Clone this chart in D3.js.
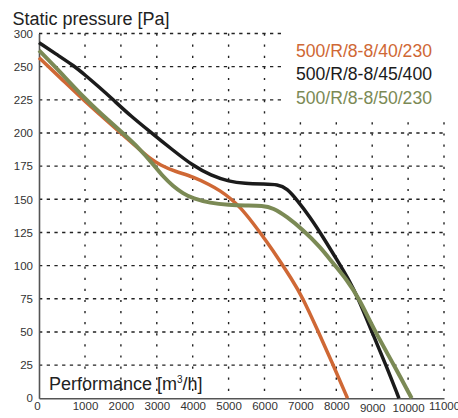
<!DOCTYPE html>
<html>
<head>
<meta charset="utf-8">
<script src="https://cdn.jsdelivr.net/npm/d3@7"></script>
<style>
  html, body { margin: 0; padding: 0; background: #fff; }
  svg { display: block; font-family: "Liberation Sans", Arial, Helvetica, sans-serif; }
</style>
</head>
<body>
<svg id="chart" width="458" height="418"></svg>
<script>
// ---- data ----
const seriesNames = ["500/R/8-8/40/230", "500/R/8-8/45/400", "500/R/8-8/50/230"];
const seriesColors = ["#cf6835", "#1b1b1b", "#7b8a55"];

const flow40 = [0, 467, 950, 1446, 2031, 2532, 2811, 3089, 3507, 4009, 4482, 4760, 5039, 5318, 5680, 6070, 6432, 6738, 7045, 7490, 7908, 8312];
const pres40 = [256.8, 241.5, 225.4, 213.2, 199.0, 187.2, 180.8, 175.9, 171.0, 167.1, 160.8, 156.6, 151.0, 144.2, 132.1, 117.8, 103.5, 90.6, 77.0, 50.7, 25.5, 0];

const flow45 = [0, 370, 767, 1000, 1390, 1772, 2281, 2866, 3423, 4017, 4510, 5011, 5457, 5958, 6376, 6627, 6905, 7267, 7630, 8019, 8354, 8604, 8994, 9384, 9746];
const pres45 = [268.1, 259.5, 250.5, 243.7, 234.7, 225.4, 212.6, 199.8, 187.6, 175.1, 168.0, 163.4, 161.9, 161.5, 161.3, 158.2, 149.5, 136.7, 121.6, 104.3, 89.2, 75.6, 50.0, 25.1, 0];

const flow50 = [0, 326, 1028, 1446, 2031, 2532, 2894, 3173, 3451, 3730, 4008, 4482, 5011, 5457, 5958, 6237, 6627, 7072, 7546, 7908, 8298, 8632, 9078, 9607, 10100];
const pres50 = [262.3, 250.9, 224.9, 214.6, 200.4, 187.9, 176.6, 167.2, 160.0, 154.4, 150.6, 147.2, 145.7, 145.3, 145.3, 143.5, 136.9, 126.9, 114.3, 101.8, 89.2, 75.4, 50.2, 25.1, 0];

const xTicks = [0, 1000, 2000, 3000, 4000, 5000, 6000, 7000, 8000, 9000, 10000, 11000];
const yTicks = [0, 25, 50, 75, 100, 125, 150, 175, 200, 225, 250, 275];
const yTickLabels = ["0", "25", "50", "75", "100", "125", "150", "175", "200", "225", "250", "300"];

const titleY = "Static pressure [Pa]";
const titleX = "Performance [m";
const titleXSup = "3";
const titleXEnd = "/h]";

// ---- chart ----
const svg = d3.select("#chart");
const x = d3.scaleLinear().domain([0, 1000, 11000]).range([39, 85, 444]);
const y = d3.scaleLinear().domain([0, 275]).range([398.3, 33.5]);

// grid
const grid = svg.append("g");
grid.selectAll("line.h").data(yTicks.slice(1)).join("line")
  .attr("x1", x(0)).attr("x2", x(11000))
  .attr("y1", d => y(d)).attr("y2", d => y(d))
  .attr("stroke", "#222").attr("stroke-width", 1.4)
  .attr("stroke-dasharray", "3.3,4.4");
grid.selectAll("line.v").data(xTicks.slice(1)).join("line")
  .attr("x1", d => x(d)).attr("x2", d => x(d))
  .attr("y1", y(275)).attr("y2", y(0))
  .attr("stroke", "#222").attr("stroke-width", 1.4)
  .attr("stroke-dasharray", "2.2,8.9");

// legend backdrop
svg.append("rect").attr("x", 285).attr("y", 0).attr("width", 173).attr("height", 116).attr("fill", "#fff");

// axes
const yAxis = svg.append("g").attr("transform", `translate(${x(0)},0)`)
  .call(d3.axisLeft(y).tickValues(yTicks).tickSize(0).tickPadding(6)
    .tickFormat((d, i) => yTickLabels[i]));
const xAxis = svg.append("g").attr("transform", `translate(0,${y(0)})`)
  .call(d3.axisBottom(x).tickValues(xTicks).tickSize(0).tickPadding(4)
    .tickFormat(d3.format("d")));
[yAxis, xAxis].forEach(g => {
  g.select(".domain").attr("stroke", "#555").attr("stroke-width", 1.6);
  g.selectAll("text").attr("fill", "#333").style("font-size", "11.5px")
    .style("font-family", "\"Liberation Sans\", Arial, sans-serif");
});
xAxis.selectAll(".tick").filter(d => d === 0).select("text").attr("dx", "-2");
xAxis.selectAll(".tick").filter(d => d === 9000 || d === 10000).select("text").attr("dy", "0.88em");

// curves
const line = d3.line().x(d => x(d[0])).y(d => y(d[1])).curve(d3.curveBasis);
const series = [
  d3.zip(flow40, pres40),
  d3.zip(flow45, pres45),
  d3.zip(flow50, pres50)
];
const widths = [3.5, 3.5, 4];
series.forEach((s, i) => {
  svg.append("path").datum(s).attr("d", line)
    .attr("fill", "none").attr("stroke", seriesColors[i])
    .attr("stroke-width", widths[i]).attr("stroke-linejoin", "round").attr("stroke-linecap", "butt");
});

// legend
svg.append("g").selectAll("text").data(seriesNames).join("text")
  .attr("x", 296).attr("y", (d, i) => 56.7 + i * 23.6)
  .attr("fill", (d, i) => seriesColors[i])
  .style("font-size", "17.6px")
  .text(d => d);

// titles
svg.append("text").attr("x", 12.5).attr("y", 25).attr("fill", "#222")
  .style("font-size", "18px").text(titleY);
const tx = svg.append("text").attr("x", 49).attr("y", 390).attr("fill", "#222").style("font-size", "18px");
tx.append("tspan").text(titleX);
tx.append("tspan").attr("dy", -7).style("font-size", "10px").text(titleXSup);
tx.append("tspan").attr("dy", 7).text(titleXEnd);
</script>
</body>
</html>
